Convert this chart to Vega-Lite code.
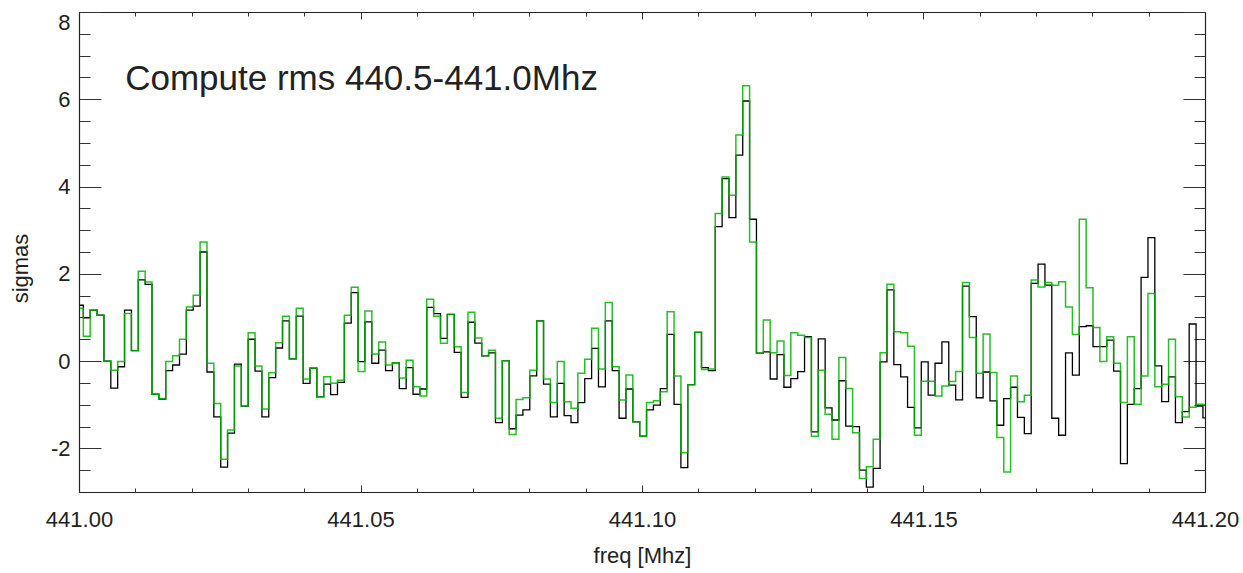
{
 "$schema": "https://vega.github.io/schema/vega-lite/v6.json",
 "width": 1126, "height": 480,
 "autosize": {"type": "none"},
 "padding": {"left": 79, "top": 12, "right": 38, "bottom": 81},
 "background": "white",
 "config": {"view": {"stroke": null}, "font": "Liberation Sans",
  "axis": {"grid": false, "domainColor": "#222", "domainWidth": 1.2, "tickColor": "#333", "tickWidth": 1, "labelColor": "#222", "titleColor": "#222", "labelFont": "Liberation Sans", "titleFont": "Liberation Sans", "labelFontSize": 22, "titleFontSize": 22, "titleFontWeight": "normal", "labelOverlap": false}},
 "datasets": {
  "spec": [
{"f":441.00016,"b":1.28,"g":1.21},{"f":441.00138,"b":0.99,"g":0.57},{"f":441.0026,"b":1.17,"g":1.17},{"f":441.00382,"b":1.05,"g":1.05},{"f":441.00504,"b":0.0,"g":0.0},
{"f":441.00626,"b":-0.62,"g":-0.21},{"f":441.00748,"b":-0.13,"g":-0.01},{"f":441.0087,"b":1.17,"g":1.09},{"f":441.00992,"b":0.24,"g":0.24},{"f":441.01114,"b":1.86,"g":2.06},
{"f":441.01236,"b":1.76,"g":1.81},{"f":441.01358,"b":-0.76,"g":-0.76},{"f":441.0148,"b":-0.87,"g":-0.86},{"f":441.01602,"b":-0.22,"g":-0.01},{"f":441.01724,"b":-0.09,"g":0.12},
{"f":441.01846,"b":0.16,"g":0.5},{"f":441.01968,"b":1.17,"g":1.24},{"f":441.0209,"b":1.26,"g":1.51},{"f":441.02212,"b":2.5,"g":2.73},{"f":441.02334,"b":-0.25,"g":-0.05},
{"f":441.02456,"b":-1.28,"g":-0.97},{"f":441.02578,"b":-2.43,"g":-2.25},{"f":441.027,"b":-1.65,"g":-1.58},{"f":441.02822,"b":-0.07,"g":-0.11},{"f":441.02944,"b":-1.03,"g":-1.03},
{"f":441.03066,"b":0.5,"g":0.65},{"f":441.03188,"b":-0.23,"g":-0.11},{"f":441.0331,"b":-1.28,"g":-1.1},{"f":441.03432,"b":-0.38,"g":-0.27},{"f":441.03554,"b":0.3,"g":0.42},
{"f":441.03676,"b":0.92,"g":1.03},{"f":441.03798,"b":0.05,"g":0.05},{"f":441.0392,"b":1.03,"g":1.21},{"f":441.04042,"b":-0.51,"g":-0.41},{"f":441.04164,"b":-0.16,"g":-0.16},
{"f":441.04286,"b":-0.82,"g":-0.82},{"f":441.04408,"b":-0.53,"g":-0.36},{"f":441.0453,"b":-0.77,"g":-0.51},{"f":441.04652,"b":-0.49,"g":-0.44},{"f":441.04774,"b":0.87,"g":1.05},
{"f":441.04896,"b":1.57,"g":1.69},{"f":441.05018,"b":-0.01,"g":-0.24},{"f":441.0514,"b":0.9,"g":1.15},{"f":441.05262,"b":-0.05,"g":0.16},{"f":441.05384,"b":0.25,"g":0.44},
{"f":441.05506,"b":-0.22,"g":-0.09},{"f":441.05628,"b":-0.04,"g":-0.04},{"f":441.0575,"b":-0.63,"g":-0.39},{"f":441.05872,"b":-0.15,"g":0.02},{"f":441.05994,"b":-0.76,"g":-0.59},
{"f":441.06116,"b":-0.64,"g":-0.8},{"f":441.06238,"b":1.23,"g":1.42},{"f":441.0636,"b":1.09,"g":1.03},{"f":441.06482,"b":0.52,"g":0.41},{"f":441.06604,"b":1.07,"g":1.07},
{"f":441.06726,"b":0.2,"g":0.33},{"f":441.06848,"b":-0.83,"g":-0.72},{"f":441.0697,"b":0.89,"g":1.12},{"f":441.07092,"b":0.41,"g":0.53},{"f":441.07214,"b":0.12,"g":0.12},
{"f":441.07336,"b":0.19,"g":0.25},{"f":441.07458,"b":-1.41,"g":-1.31},{"f":441.0758,"b":0.01,"g":0.01},{"f":441.07702,"b":-1.55,"g":-1.68},{"f":441.07824,"b":-1.24,"g":-0.88},
{"f":441.07946,"b":-1.12,"g":-0.84},{"f":441.08068,"b":-0.34,"g":-0.21},{"f":441.0819,"b":0.92,"g":0.92},{"f":441.08312,"b":-0.53,"g":-0.41},{"f":441.08434,"b":-1.28,"g":-0.95},
{"f":441.08556,"b":-0.51,"g":-0.01},{"f":441.08678,"b":-1.25,"g":-0.93},{"f":441.088,"b":-1.41,"g":-1.08},{"f":441.08922,"b":-0.95,"g":-0.28},{"f":441.09044,"b":-0.4,"g":0.04},
{"f":441.09166,"b":0.29,"g":0.75},{"f":441.09288,"b":-0.59,"g":-0.18},{"f":441.0941,"b":0.92,"g":1.34},{"f":441.09532,"b":-0.22,"g":-0.13},{"f":441.09654,"b":-1.31,"g":-0.89},
{"f":441.09776,"b":-0.64,"g":-0.32},{"f":441.09898,"b":-1.39,"g":-1.39},{"f":441.1002,"b":-1.72,"g":-1.72},{"f":441.10142,"b":-1.12,"g":-0.95},{"f":441.10264,"b":-1.01,"g":-0.91},
{"f":441.10386,"b":-0.63,"g":-0.7},{"f":441.10508,"b":0.61,"g":1.13},{"f":441.1063,"b":-0.99,"g":-0.34},{"f":441.10752,"b":-2.44,"g":-2.1},{"f":441.10874,"b":-0.54,"g":-0.54},
{"f":441.10996,"b":0.66,"g":0.66},{"f":441.11118,"b":-0.15,"g":-0.19},{"f":441.1124,"b":-0.22,"g":-0.18},{"f":441.11362,"b":3.08,"g":3.38},{"f":441.11484,"b":4.18,"g":4.22},
{"f":441.11606,"b":3.29,"g":3.8},{"f":441.11728,"b":4.72,"g":5.18},{"f":441.1185,"b":5.96,"g":6.31},{"f":441.11972,"b":3.25,"g":2.73},{"f":441.12094,"b":0.18,"g":0.18},
{"f":441.12216,"b":0.21,"g":0.94},{"f":441.12338,"b":-0.41,"g":0.19},{"f":441.1246,"b":0.15,"g":0.46},{"f":441.12582,"b":-0.6,"g":-0.33},{"f":441.12704,"b":-0.4,"g":0.65},
{"f":441.12826,"b":-0.24,"g":0.59},{"f":441.12948,"b":0.56,"g":0.54},{"f":441.1307,"b":-1.62,"g":-1.72},{"f":441.13192,"b":0.51,"g":-0.21},{"f":441.13314,"b":-1.07,"g":-1.22},
{"f":441.13436,"b":-1.35,"g":-1.79},{"f":441.13558,"b":-0.45,"g":0.08},{"f":441.1368,"b":-1.49,"g":-0.63},{"f":441.13802,"b":-1.5,"g":-1.64},{"f":441.13924,"b":-2.5,"g":-2.69},
{"f":441.14046,"b":-2.89,"g":-2.42},{"f":441.14168,"b":-2.46,"g":-1.79},{"f":441.1429,"b":-0.02,"g":0.19},{"f":441.14412,"b":1.63,"g":1.76},{"f":441.14534,"b":-0.08,"g":0.67},
{"f":441.14656,"b":-0.36,"g":0.65},{"f":441.14778,"b":-1.06,"g":0.34},{"f":441.149,"b":-1.53,"g":-1.7},{"f":441.15022,"b":-0.02,"g":-0.46},{"f":441.15144,"b":-0.78,"g":-0.46},
{"f":441.15266,"b":-0.05,"g":-0.8},{"f":441.15388,"b":0.44,"g":-0.57},{"f":441.1551,"b":-0.55,"g":-0.47},{"f":441.15632,"b":-0.89,"g":-0.24},{"f":441.15754,"b":1.72,"g":1.8},
{"f":441.15876,"b":1.02,"g":0.54},{"f":441.15998,"b":-0.84,"g":-0.28},{"f":441.1612,"b":-0.25,"g":0.62},{"f":441.16242,"b":-0.91,"g":-0.26},{"f":441.16364,"b":-1.47,"g":-1.75},
{"f":441.16486,"b":-0.86,"g":-2.54},{"f":441.16608,"b":-0.6,"g":-0.34},{"f":441.1673,"b":-1.29,"g":-0.93},{"f":441.16852,"b":-1.66,"g":-0.78},{"f":441.16974,"b":1.78,"g":1.86},
{"f":441.17096,"b":2.22,"g":1.7},{"f":441.17218,"b":1.74,"g":1.8},{"f":441.1734,"b":-1.31,"g":1.74},{"f":441.17462,"b":-1.7,"g":1.82},{"f":441.17584,"b":0.19,"g":1.24},
{"f":441.17706,"b":-0.32,"g":0.61},{"f":441.17828,"b":0.79,"g":3.25},{"f":441.1795,"b":0.81,"g":1.68},{"f":441.18072,"b":0.33,"g":0.77},{"f":441.18194,"b":0.33,"g":-0.01},
{"f":441.18316,"b":0.48,"g":0.56},{"f":441.18438,"b":-0.23,"g":-0.05},{"f":441.1856,"b":-2.35,"g":-0.95},{"f":441.18682,"b":-0.99,"g":0.56},{"f":441.18804,"b":-0.63,"g":-0.99},
{"f":441.18926,"b":1.92,"g":-0.34},{"f":441.19048,"b":2.83,"g":1.55},{"f":441.1917,"b":-0.11,"g":-0.59},{"f":441.19292,"b":-0.93,"g":-0.53},{"f":441.19414,"b":-0.36,"g":0.5},
{"f":441.19536,"b":-1.41,"g":-0.82},{"f":441.19658,"b":-1.16,"g":-1.28},{"f":441.1978,"b":0.85,"g":-1.06},{"f":441.19902,"b":-1.03,"g":-0.99},{"f":441.20024,"b":-1.3,"g":-1.0}
  ],
  "note": [{"f": 441.0082, "y": 6.21, "label": "Compute rms 440.5-441.0Mhz"}]
 },
 "layer": [
  {
   "data": {"name": "spec"},
   "mark": {"type": "line", "interpolate": "step", "color": "#000000", "strokeWidth": 1.3, "clip": true},
   "encoding": {
    "x": {"field": "f", "type": "quantitative", "scale": {"domain": [441.0, 441.2], "nice": false, "zero": false},
     "axis": {"orient": "bottom", "values": [441.0, 441.05, 441.1, 441.15, 441.2], "format": ".2f", "tickSize": -7, "labelPadding": 24, "title": "freq [Mhz]", "titleY": 63, "titleBaseline": "middle", "domain": true, "labelFlush": false}},
    "y": {"field": "b", "type": "quantitative", "scale": {"domain": [-3, 8], "nice": false, "zero": false},
     "axis": {"orient": "left", "values": [-2, 0, 2, 4, 6, 8], "labelExpr": "toString(datum.value)", "tickSize": -22, "labelPadding": 31, "title": "sigmas", "titleX": -59, "titleY": 256, "titleAngle": -90, "titleBaseline": "middle", "titleAlign": "center", "labelFlush": true, "domain": true}}
   }
  },
  {
   "data": {"name": "spec"},
   "mark": {"type": "line", "interpolate": "step", "color": "#00b400", "strokeWidth": 1.5, "opacity": 0.85, "clip": true},
   "encoding": {
    "x": {"field": "f", "type": "quantitative", "scale": {"domain": [441.0, 441.2], "nice": false, "zero": false},
     "axis": {"orient": "bottom", "values": [441.01, 441.02, 441.03, 441.04, 441.06, 441.07, 441.08, 441.09, 441.11, 441.12, 441.13, 441.14, 441.16, 441.17, 441.18, 441.19], "tickSize": -4, "labels": false, "domain": false, "title": null}},
    "y": {"field": "g", "type": "quantitative", "scale": {"domain": [-3, 8], "nice": false, "zero": false},
     "axis": {"orient": "left", "values": [-2.5, -1.5, -1, -0.5, 0.5, 1, 1.5, 2.5, 3, 3.5, 4.5, 5, 5.5, 6.5, 7, 7.5], "tickSize": -11, "labels": false, "domain": false, "title": null}}
   }
  },
  {
   "data": {"name": "note"},
   "mark": {"type": "text", "align": "left", "baseline": "alphabetic", "fontSize": 35, "font": "Liberation Sans", "color": "#222222"},
   "encoding": {
    "x": {"field": "f", "type": "quantitative", "scale": {"domain": [441.0, 441.2], "nice": false, "zero": false},
     "axis": {"orient": "top", "values": [441.0, 441.05, 441.1, 441.15, 441.2], "tickSize": -7, "labels": false, "domain": true, "title": null}},
    "y": {"field": "y", "type": "quantitative", "scale": {"domain": [-3, 8], "nice": false, "zero": false},
     "axis": {"orient": "right", "values": [-2, 0, 2, 4, 6, 8], "tickSize": -22, "labels": false, "domain": true, "title": null}},
    "text": {"field": "label"}
   }
  },
  {
   "data": {"name": "note"},
   "mark": {"type": "point", "opacity": 0},
   "encoding": {
    "x": {"field": "f", "type": "quantitative", "scale": {"domain": [441.0, 441.2], "nice": false, "zero": false},
     "axis": {"orient": "top", "values": [441.01, 441.02, 441.03, 441.04, 441.06, 441.07, 441.08, 441.09, 441.11, 441.12, 441.13, 441.14, 441.16, 441.17, 441.18, 441.19], "tickSize": -4, "labels": false, "domain": false, "title": null}},
    "y": {"field": "y", "type": "quantitative", "scale": {"domain": [-3, 8], "nice": false, "zero": false},
     "axis": {"orient": "right", "values": [-2.5, -1.5, -1, -0.5, 0.5, 1, 1.5, 2.5, 3, 3.5, 4.5, 5, 5.5, 6.5, 7, 7.5], "tickSize": -11, "labels": false, "domain": false, "title": null}}
   }
  }
 ],
 "resolve": {"axis": {"x": "independent", "y": "independent"}}
}
